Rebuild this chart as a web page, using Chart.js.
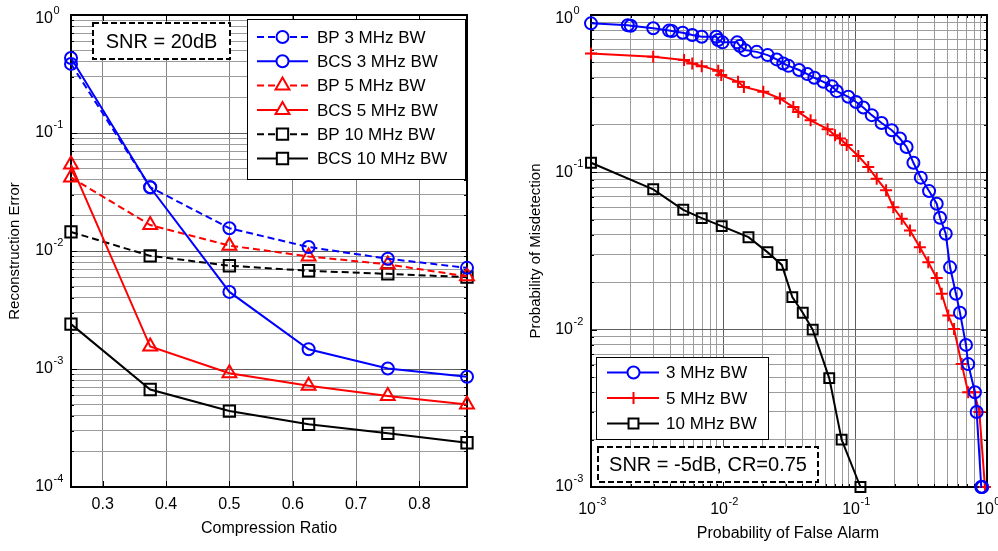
<!DOCTYPE html>
<html>
<head>
<meta charset="utf-8">
<script src="https://cdn.jsdelivr.net/npm/chart.js@4.4.1/dist/chart.umd.min.js"></script>
<style>
  html, body { margin: 0; padding: 0; background: #fff; }
  #wrap { position: relative; width: 998px; height: 551px; overflow: hidden; }
  canvas { position: absolute; top: 0; }
  #left { left: 0; }
  #right { left: 499px; }
</style>
</head>
<body>
<div id="wrap">
  <canvas id="left" width="499" height="551"></canvas>
  <canvas id="right" width="499" height="551"></canvas>
</div>
<script>
// ---- left panel: reconstruction error vs compression ratio ----
const compRatio = [0.25, 0.375, 0.5, 0.625, 0.75, 0.875];
const bp3MHz   = [0.385, 0.0347, 0.0156, 0.0108, 0.0086, 0.0072];
const bcs3MHz  = [0.432, 0.0347, 0.0045, 0.00147, 0.00101, 0.00086];
const bp5MHz   = [0.042, 0.0166, 0.0111, 0.0090, 0.0077, 0.0061];
const bcs5MHz  = [0.054, 0.00155, 0.00092, 0.00072, 0.00059, 0.0005];
const bp10MHz  = [0.0145, 0.0091, 0.0075, 0.0068, 0.0064, 0.0060];
const bcs10MHz = [0.0024, 0.00067, 0.00044, 0.00034, 0.000285, 0.000237];
const leftLabels = ["BP 3 MHz BW", "BCS 3 MHz BW", "BP 5 MHz BW", "BCS 5 MHz BW", "BP 10 MHz BW", "BCS 10 MHz BW"];
const crTicks = [0.3, 0.4, 0.5, 0.6, 0.7, 0.8];
const errDecades = [0, -1, -2, -3, -4];
const leftNote = "SNR = 20dB";

// ---- right panel: ROC, misdetection vs false alarm ----
const pfa3 = [0.001, 0.0019, 0.002, 0.00296, 0.0039, 0.0041, 0.00495, 0.00585, 0.0069, 0.0089, 0.0092, 0.0099,
  0.0128, 0.01345, 0.0147, 0.018, 0.0218, 0.0255, 0.0286, 0.0313, 0.0377, 0.0436, 0.0492, 0.0576, 0.0667,
  0.0727, 0.089, 0.102, 0.1156, 0.134, 0.159, 0.19, 0.219, 0.246, 0.277, 0.315, 0.364, 0.416, 0.441, 0.487,
  0.525, 0.582, 0.624, 0.693, 0.72, 0.81, 0.835, 0.905, 0.912, 0.92];
const pmd3 = [0.885, 0.86, 0.855, 0.823, 0.796, 0.79, 0.771, 0.746, 0.727, 0.727, 0.693, 0.67,
  0.67, 0.635, 0.598, 0.583, 0.556, 0.522, 0.492, 0.475, 0.447, 0.421, 0.399, 0.376, 0.353,
  0.328, 0.302, 0.28, 0.258, 0.231, 0.206, 0.185, 0.164, 0.145, 0.115, 0.0925, 0.076, 0.0632, 0.0514, 0.0407,
  0.0249, 0.0169, 0.0128, 0.0080, 0.00604, 0.0040, 0.0030, 0.001, 0.001, 0.001];
const pfa5 = [0.001, 0.00296, 0.00507, 0.00585, 0.0069, 0.0092, 0.0097, 0.013, 0.0144, 0.0202, 0.027, 0.0341,
  0.0372, 0.0461, 0.062, 0.0705, 0.077, 0.0865, 0.106, 0.126, 0.146, 0.172, 0.195, 0.226, 0.261, 0.31,
  0.359, 0.416, 0.454, 0.509, 0.563, 0.643, 0.72, 0.80, 0.875, 0.965];
const pmd5 = [0.57, 0.543, 0.517, 0.492, 0.473, 0.442, 0.415, 0.376, 0.349, 0.325, 0.295, 0.26,
  0.242, 0.214, 0.188, 0.172, 0.164, 0.149, 0.127, 0.108, 0.0912, 0.0768, 0.060, 0.0507, 0.0427, 0.0334,
  0.0268, 0.0213, 0.0169, 0.0123, 0.0101, 0.00604, 0.0040, 0.0040, 0.0030, 0.001];
const pfa10 = [0.001, 0.00296, 0.005, 0.0069, 0.00978, 0.0156, 0.0217, 0.0279, 0.0335, 0.0402, 0.0478, 0.0638, 0.0792, 0.110];
const pmd10 = [0.115, 0.078, 0.0578, 0.0512, 0.0455, 0.0387, 0.0311, 0.0258, 0.0161, 0.0128, 0.0100, 0.00492, 0.0020, 0.001];
const rightLabels = ["3 MHz BW", "5 MHz BW", "10 MHz BW"];
const pfaDecades = [-3, -2, -1, 0];
const pmdDecades = [0, -1, -2, -3];
const rightNote = "SNR = -5dB, CR=0.75";

const FONT = "'Liberation Sans', Arial, Helvetica, sans-serif";

function isDecade(v) {
    const e = Math.log10(v);
    return Math.abs(e - Math.round(e)) < 1e-6;
}

// 1..9 x 10^e for every decade between the two exponents
function logGrid(decades) {
    const lo = Math.min(...decades), hi = Math.max(...decades);
    const ticks = [];
    for (let e = lo; e < hi; e++)
        for (let m = 1; m < 10; m++) ticks.push({ value: +(m * Math.pow(10, e)).toPrecision(6) });
    ticks.push({ value: Math.pow(10, hi) });
    return ticks;
}

function series(label, xs, ys, color, style, radius, dashed) {
    return {
        label: label,
        data: xs.map((x, i) => ({ x: x, y: ys[i] })),
        borderColor: color,
        borderWidth: 2,
        borderDash: dashed ? [7, 4] : [],
        pointStyle: style,
        pointRadius: radius,
        pointBorderColor: color,
        pointBackgroundColor: "rgba(0,0,0,0)",
        pointBorderWidth: 2,
        tension: 0,
        fill: false,
        clip: false
    };
}

// "10" with a raised exponent
function drawPow(ctx, exp, x, y, align) {
    ctx.font = "16px " + FONT;
    const wb = ctx.measureText("10").width;
    ctx.font = "11px " + FONT;
    const ws = ctx.measureText(String(exp)).width;
    const x0 = align === "right" ? x - wb : x - (wb + ws) / 2;
    ctx.textAlign = "left";
    ctx.font = "16px " + FONT;
    ctx.textBaseline = "middle";
    ctx.fillText("10", x0, y);
    ctx.font = "11px " + FONT;
    ctx.textBaseline = "alphabetic";
    ctx.fillText(String(exp), x0 + wb + 0.5, y - 5);
}

function vText(ctx, text, x, y, size) {
    ctx.save();
    ctx.translate(x, y);
    ctx.rotate(-Math.PI / 2);
    ctx.font = size + "px " + FONT;
    ctx.textAlign = "center";
    ctx.textBaseline = "middle";
    ctx.fillText(text, 0, 0);
    ctx.restore();
}

function drawLegend(ctx, chart, L) {
    ctx.fillStyle = "#fff";
    ctx.fillRect(L.x, L.y, L.w, L.h);
    ctx.strokeStyle = "#000";
    ctx.lineWidth = 1;
    ctx.setLineDash([]);
    ctx.strokeRect(L.x + 0.5, L.y + 0.5, L.w, L.h);
    chart.data.datasets.forEach((ds, i) => {
        const cy = L.row0 + i * L.step;
        ctx.strokeStyle = ds.borderColor;
        ctx.lineWidth = 2;
        ctx.setLineDash(ds.borderDash);
        ctx.beginPath();
        ctx.moveTo(L.lineX0, cy);
        ctx.lineTo(L.lineX1, cy);
        ctx.stroke();
        ctx.setLineDash([]);
        ctx.fillStyle = "#fff";
        Chart.helpers.drawPoint(ctx, { pointStyle: ds.pointStyle, radius: ds.pointRadius, borderWidth: 2, rotation: 0 }, L.markX, cy);
        ctx.fillStyle = "#000";
        ctx.font = "17px " + FONT;
        ctx.textAlign = "left";
        ctx.textBaseline = "middle";
        ctx.fillText(ds.label, L.textX, cy + 1);
    });
}

function drawNote(ctx, N) {
    ctx.fillStyle = "#fff";
    ctx.fillRect(N.x, N.y, N.w, N.h);
    ctx.strokeStyle = "#000";
    ctx.lineWidth = 2;
    ctx.setLineDash([6, 3]);
    ctx.strokeRect(N.x, N.y, N.w, N.h);
    ctx.setLineDash([]);
    ctx.fillStyle = "#000";
    ctx.font = "20px " + FONT;
    ctx.textAlign = "center";
    ctx.textBaseline = "middle";
    ctx.fillText(N.text, N.x + N.w / 2, N.y + N.h / 2 + 1);
}

// MATLAB-like frame: box, inward ticks, tick labels, titles, legend, note
function matlabFrame(cfg) {
    return {
        id: "matlabFrame",
        beforeDatasetsDraw(chart) {
            const { ctx, chartArea: a } = chart;
            const xs = chart.scales.x, ys = chart.scales.y;
            ctx.save();
            ctx.strokeStyle = "#000";
            ctx.lineWidth = 1;
            ctx.beginPath();
            ys.ticks.forEach(t => {
                const py = Math.round(ys.getPixelForValue(t.value)) + 0.5;
                const len = cfg.yMajor(t.value) ? 6 : 3;
                ctx.moveTo(a.left, py); ctx.lineTo(a.left + len, py);
                ctx.moveTo(a.right, py); ctx.lineTo(a.right - len, py);
            });
            xs.ticks.forEach(t => {
                const px = Math.round(xs.getPixelForValue(t.value)) + 0.5;
                const len = cfg.xMajor(t.value) ? 6 : 3;
                ctx.moveTo(px, a.bottom); ctx.lineTo(px, a.bottom - len);
                ctx.moveTo(px, a.top); ctx.lineTo(px, a.top + len);
            });
            ctx.stroke();
            ctx.lineWidth = 2;
            ctx.strokeRect(a.left, a.top, a.right - a.left, a.bottom - a.top);
            ctx.restore();
        },
        afterDraw(chart) {
            const ctx = chart.ctx;
            const xs = chart.scales.x, ys = chart.scales.y;
            ctx.save();
            ctx.fillStyle = "#000";
            cfg.xLabels(ctx, xs);
            cfg.yLabels(ctx, ys);
            ctx.font = "16px " + FONT;
            ctx.textAlign = "center";
            ctx.textBaseline = "middle";
            ctx.fillText(cfg.xTitle, cfg.xTitlePos[0], cfg.xTitlePos[1]);
            vText(ctx, cfg.yTitle, cfg.yTitlePos[0], cfg.yTitlePos[1], 15);
            drawLegend(ctx, chart, cfg.legend);
            drawNote(ctx, cfg.note);
            ctx.restore();
        }
    };
}

function gridColor(c) {
    if (!c.tick) return "#999";
    return isDecade(c.tick.value) ? "#5e5e5e" : "#9c9c9c";
}

// ---- left chart ----
new Chart(document.getElementById("left"), {
    type: "line",
    data: {
        datasets: [
            series(leftLabels[0], compRatio, bp3MHz, "#0000ff", "circle", 6, true),
            series(leftLabels[1], compRatio, bcs3MHz, "#0000ff", "circle", 6, false),
            series(leftLabels[2], compRatio, bp5MHz, "#ff0000", "triangle", 8, true),
            series(leftLabels[3], compRatio, bcs5MHz, "#ff0000", "triangle", 8, false),
            series(leftLabels[4], compRatio, bp10MHz, "#000000", "rect", 8, true),
            series(leftLabels[5], compRatio, bcs10MHz, "#000000", "rect", 8, false)
        ]
    },
    options: {
        responsive: false,
        animation: false,
        events: [],
        layout: { padding: { top: 15, right: 32, bottom: 0, left: 0 } },
        plugins: { legend: { display: false }, tooltip: { enabled: false } },
        scales: {
            x: {
                type: "linear", min: 0.25, max: 0.875,
                ticks: { display: false },
                grid: { color: "#858585", drawTicks: false },
                border: { display: false },
                afterBuildTicks: s => { s.ticks = crTicks.map(v => ({ value: v })); },
                afterFit: s => { s.height = 64; }
            },
            y: {
                type: "logarithmic", min: 1e-4, max: 1,
                ticks: { display: false },
                grid: { color: gridColor, drawTicks: false },
                border: { display: false },
                afterBuildTicks: s => { s.ticks = logGrid(errDecades); },
                afterFit: s => { s.width = 71; }
            }
        }
    },
    plugins: [matlabFrame({
        xMajor: () => true,
        yMajor: isDecade,
        xLabels: (ctx, s) => {
            ctx.font = "16px " + FONT;
            ctx.textAlign = "center";
            ctx.textBaseline = "middle";
            crTicks.forEach(v => ctx.fillText(v.toFixed(1), s.getPixelForValue(v), 505));
        },
        yLabels: (ctx, s) => {
            errDecades.forEach(e => drawPow(ctx, e, 53, Math.max(19, s.getPixelForValue(Math.pow(10, e))), "right"));
        },
        xTitle: "Compression Ratio",
        xTitlePos: [269, 529],
        yTitle: "Reconstruction Error",
        yTitlePos: [15, 251],
        legend: { x: 247, y: 19, w: 218, h: 160, row0: 37, step: 24.3, lineX0: 257, lineX1: 308, markX: 282.5, textX: 317 },
        note: { x: 93, y: 23, w: 137, h: 36, text: leftNote }
    })]
});

// ---- right chart ----
new Chart(document.getElementById("right"), {
    type: "line",
    data: {
        datasets: [
            series(rightLabels[0], pfa3, pmd3, "#0000ff", "circle", 6, false),
            series(rightLabels[1], pfa5, pmd5, "#ff0000", "cross", 6, false),
            series(rightLabels[2], pfa10, pmd10, "#000000", "rect", 7, false)
        ]
    },
    options: {
        responsive: false,
        animation: false,
        events: [],
        layout: { padding: { top: 15, right: 11, bottom: 0, left: 0 } },
        plugins: { legend: { display: false }, tooltip: { enabled: false } },
        scales: {
            x: {
                type: "logarithmic", min: 1e-3, max: 1,
                ticks: { display: false },
                grid: { color: gridColor, drawTicks: false },
                border: { display: false },
                afterBuildTicks: s => { s.ticks = logGrid(pfaDecades); },
                afterFit: s => { s.height = 64; }
            },
            y: {
                type: "logarithmic", min: 1e-3, max: 1,
                ticks: { display: false },
                grid: { color: gridColor, drawTicks: false },
                border: { display: false },
                afterBuildTicks: s => { s.ticks = logGrid(pmdDecades); },
                afterFit: s => { s.width = 92; }
            }
        }
    },
    plugins: [matlabFrame({
        xMajor: isDecade,
        yMajor: isDecade,
        xLabels: (ctx, s) => {
            pfaDecades.forEach(e => drawPow(ctx, e, s.getPixelForValue(Math.pow(10, e)) + 1, 510, "center"));
        },
        yLabels: (ctx, s) => {
            pmdDecades.forEach(e => drawPow(ctx, e, 74, Math.max(19, s.getPixelForValue(Math.pow(10, e))), "right"));
        },
        xTitle: "Probability of False Alarm",
        xTitlePos: [289, 534],
        yTitle: "Probability of Misdetection",
        yTitlePos: [37, 251],
        legend: { x: 97, y: 357, w: 172, h: 82, row0: 372.5, step: 25.5, lineX0: 108, lineX1: 160, markX: 134.5, textX: 167 },
        note: { x: 99, y: 447, w: 220, h: 35, text: rightNote }
    })]
});
</script>
</body>
</html>
